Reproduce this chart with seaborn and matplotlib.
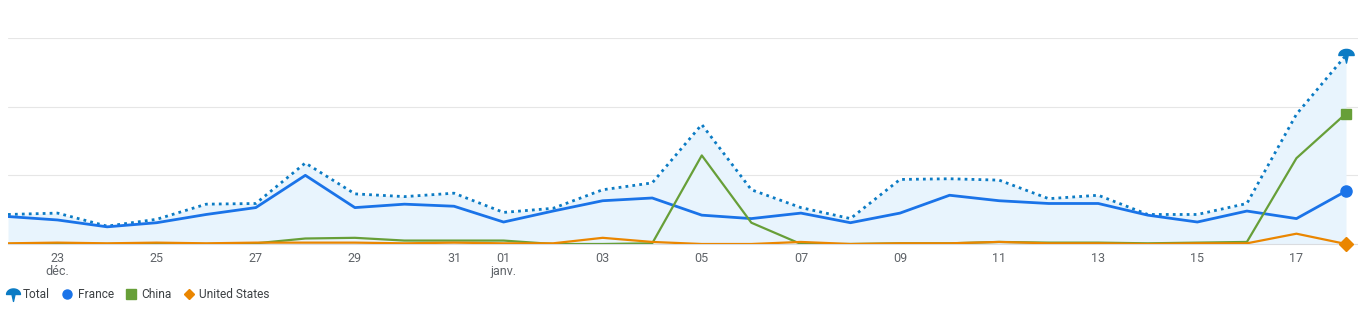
import numpy as np
import pandas as pd
import matplotlib
matplotlib.use("Agg")
import matplotlib.pyplot as plt
from matplotlib.path import Path
from matplotlib.lines import Line2D
import seaborn as sns

# ---- data (index 0 = 22 déc., index 27 = 18 janv.) ----
days = list(range(28))
total = [0.43, 0.45, 0.26, 0.36, 0.58, 0.59, 1.18, 0.73, 0.69, 0.74,
         0.46, 0.52, 0.79, 0.89, 1.74, 0.79, 0.53, 0.37, 0.94, 0.95,
         0.93, 0.66, 0.71, 0.43, 0.43, 0.59, 1.89, 2.75]
france = [0.40, 0.35, 0.25, 0.31, 0.43, 0.53, 1.00, 0.53, 0.58, 0.55,
          0.32, 0.48, 0.63, 0.67, 0.42, 0.37, 0.45, 0.31, 0.45, 0.71,
          0.63, 0.59, 0.59, 0.42, 0.32, 0.48, 0.37, 0.77]
china = [0.00, 0.01, 0.00, 0.01, 0.00, 0.01, 0.08, 0.09, 0.05, 0.05,
         0.05, 0.00, 0.00, 0.01, 1.29, 0.31, 0.00, 0.00, 0.01, 0.01,
         0.03, 0.02, 0.02, 0.01, 0.02, 0.03, 1.25, 1.90]
usa = [0.01, 0.02, 0.01, 0.02, 0.01, 0.02, 0.02, 0.02, 0.01, 0.02,
       0.01, 0.01, 0.09, 0.03, 0.00, 0.00, 0.03, 0.00, 0.01, 0.01,
       0.03, 0.01, 0.01, 0.00, 0.01, 0.01, 0.15, 0.00]
tick_pos = [1, 3, 5, 7, 9, 10, 12, 14, 16, 18, 20, 22, 24, 26]
tick_labels = ["23\ndéc.", "25", "27", "29", "31", "01\njanv.", "03", "05",
               "07", "09", "11", "13", "15", "17"]
series_names = ["Total", "France", "China", "United States"]

C_TOTAL = "#0b7bc4"
C_FR = "#1a73e8"
C_CN = "#679f38"
C_US = "#ea8600"
C_FILL = "#e8f4fd"
C_TEXT = "#5f6368"
C_GRID = "#e6e6e6"

# pin-shaped marker for Total
th = np.linspace(0, np.pi, 20)
verts = [(np.cos(t), np.sin(t) * 0.8) for t in th]
verts += [(-0.22, 0.0), (0.0, -1.0), (0.22, 0.0), (1.0, 0.0)]
codes = [Path.MOVETO] + [Path.LINETO] * (len(verts) - 2) + [Path.CLOSEPOLY]
pin = Path(verts, codes)

df = pd.DataFrame({"day": days, "Total": total, "France": france,
                   "China": china, "United States": usa})

sns.set_theme(style="white")
plt.rcParams["font.family"] = ["Roboto", "DejaVu Sans"]

W, H, DPI = 1358, 311, 100
fig = plt.figure(figsize=(W / DPI, H / DPI), dpi=DPI)
ax = fig.add_axes([8 / W, (H - 244) / H, (1358 - 8) / W, (244 - 38) / H])

ax.fill_between(df["day"], df["Total"], 0, color=C_FILL, linewidth=0, zorder=1)
sns.lineplot(data=df, x="day", y="Total", ax=ax, color=C_TOTAL, lw=2.0,
             linestyle=(0, (1, 1.5)), zorder=3)
sns.lineplot(data=df, x="day", y="France", ax=ax, color=C_FR, lw=2.0, zorder=4)
sns.lineplot(data=df, x="day", y="China", ax=ax, color=C_CN, lw=1.6, zorder=5)
sns.lineplot(data=df, x="day", y="United States", ax=ax, color=C_US, lw=1.6, zorder=6)

last = df.iloc[[-1]]
ax.plot(last["day"], last["Total"], marker=pin, ms=11, color=C_TOTAL, ls="none",
        zorder=7, clip_on=False)
ax.plot(last["day"], last["France"], marker="o", ms=8, color=C_FR, ls="none",
        zorder=7, clip_on=False)
ax.plot(last["day"], last["China"], marker="s", ms=7.5, color=C_CN, ls="none",
        zorder=7, clip_on=False)
ax.plot(last["day"], last["United States"], marker="D", ms=7, color=C_US, ls="none",
        zorder=8, clip_on=False)

ax.set_xlim(0, 27 + 12 / 49.6)
ax.set_ylim(0, 3)
ax.set_yticks([0, 1, 2, 3])
ax.set_yticklabels([])
ax.tick_params(axis="y", length=0)
ax.grid(axis="y", color=C_GRID, lw=0.8)
ax.grid(axis="x", visible=False)
ax.set_axisbelow(True)
for s in ["top", "right", "left"]:
    ax.spines[s].set_visible(False)
ax.spines["bottom"].set_color("#dadce0")
ax.spines["bottom"].set_linewidth(0.8)

ax.set_xticks(tick_pos)
ax.set_xticklabels(tick_labels, color=C_TEXT, fontsize=9, linespacing=1.0)
ax.tick_params(axis="x", length=4, color="#dadce0", width=0.8, pad=2)
ax.set_xlabel("")
ax.set_ylabel("")

handles = [
    Line2D([], [], marker=pin, color=C_TOTAL, ls="none", ms=10),
    Line2D([], [], marker="o", color=C_FR, ls="none", ms=6.5),
    Line2D([], [], marker="s", color=C_CN, ls="none", ms=6.5),
    Line2D([], [], marker="D", color=C_US, ls="none", ms=5.5),
]
leg = fig.legend(handles, series_names, loc="center left",
                 bbox_to_anchor=(7 / W, 1 - 295 / H),
                 ncol=4, frameon=False, fontsize=8.6, handletextpad=0.35,
                 columnspacing=0.95, handlelength=1.0, borderaxespad=0.0,
                 borderpad=0.0)
for t in leg.get_texts():
    t.set_color("#3c4043")

fig.savefig("out.png", dpi=DPI, facecolor="white")
